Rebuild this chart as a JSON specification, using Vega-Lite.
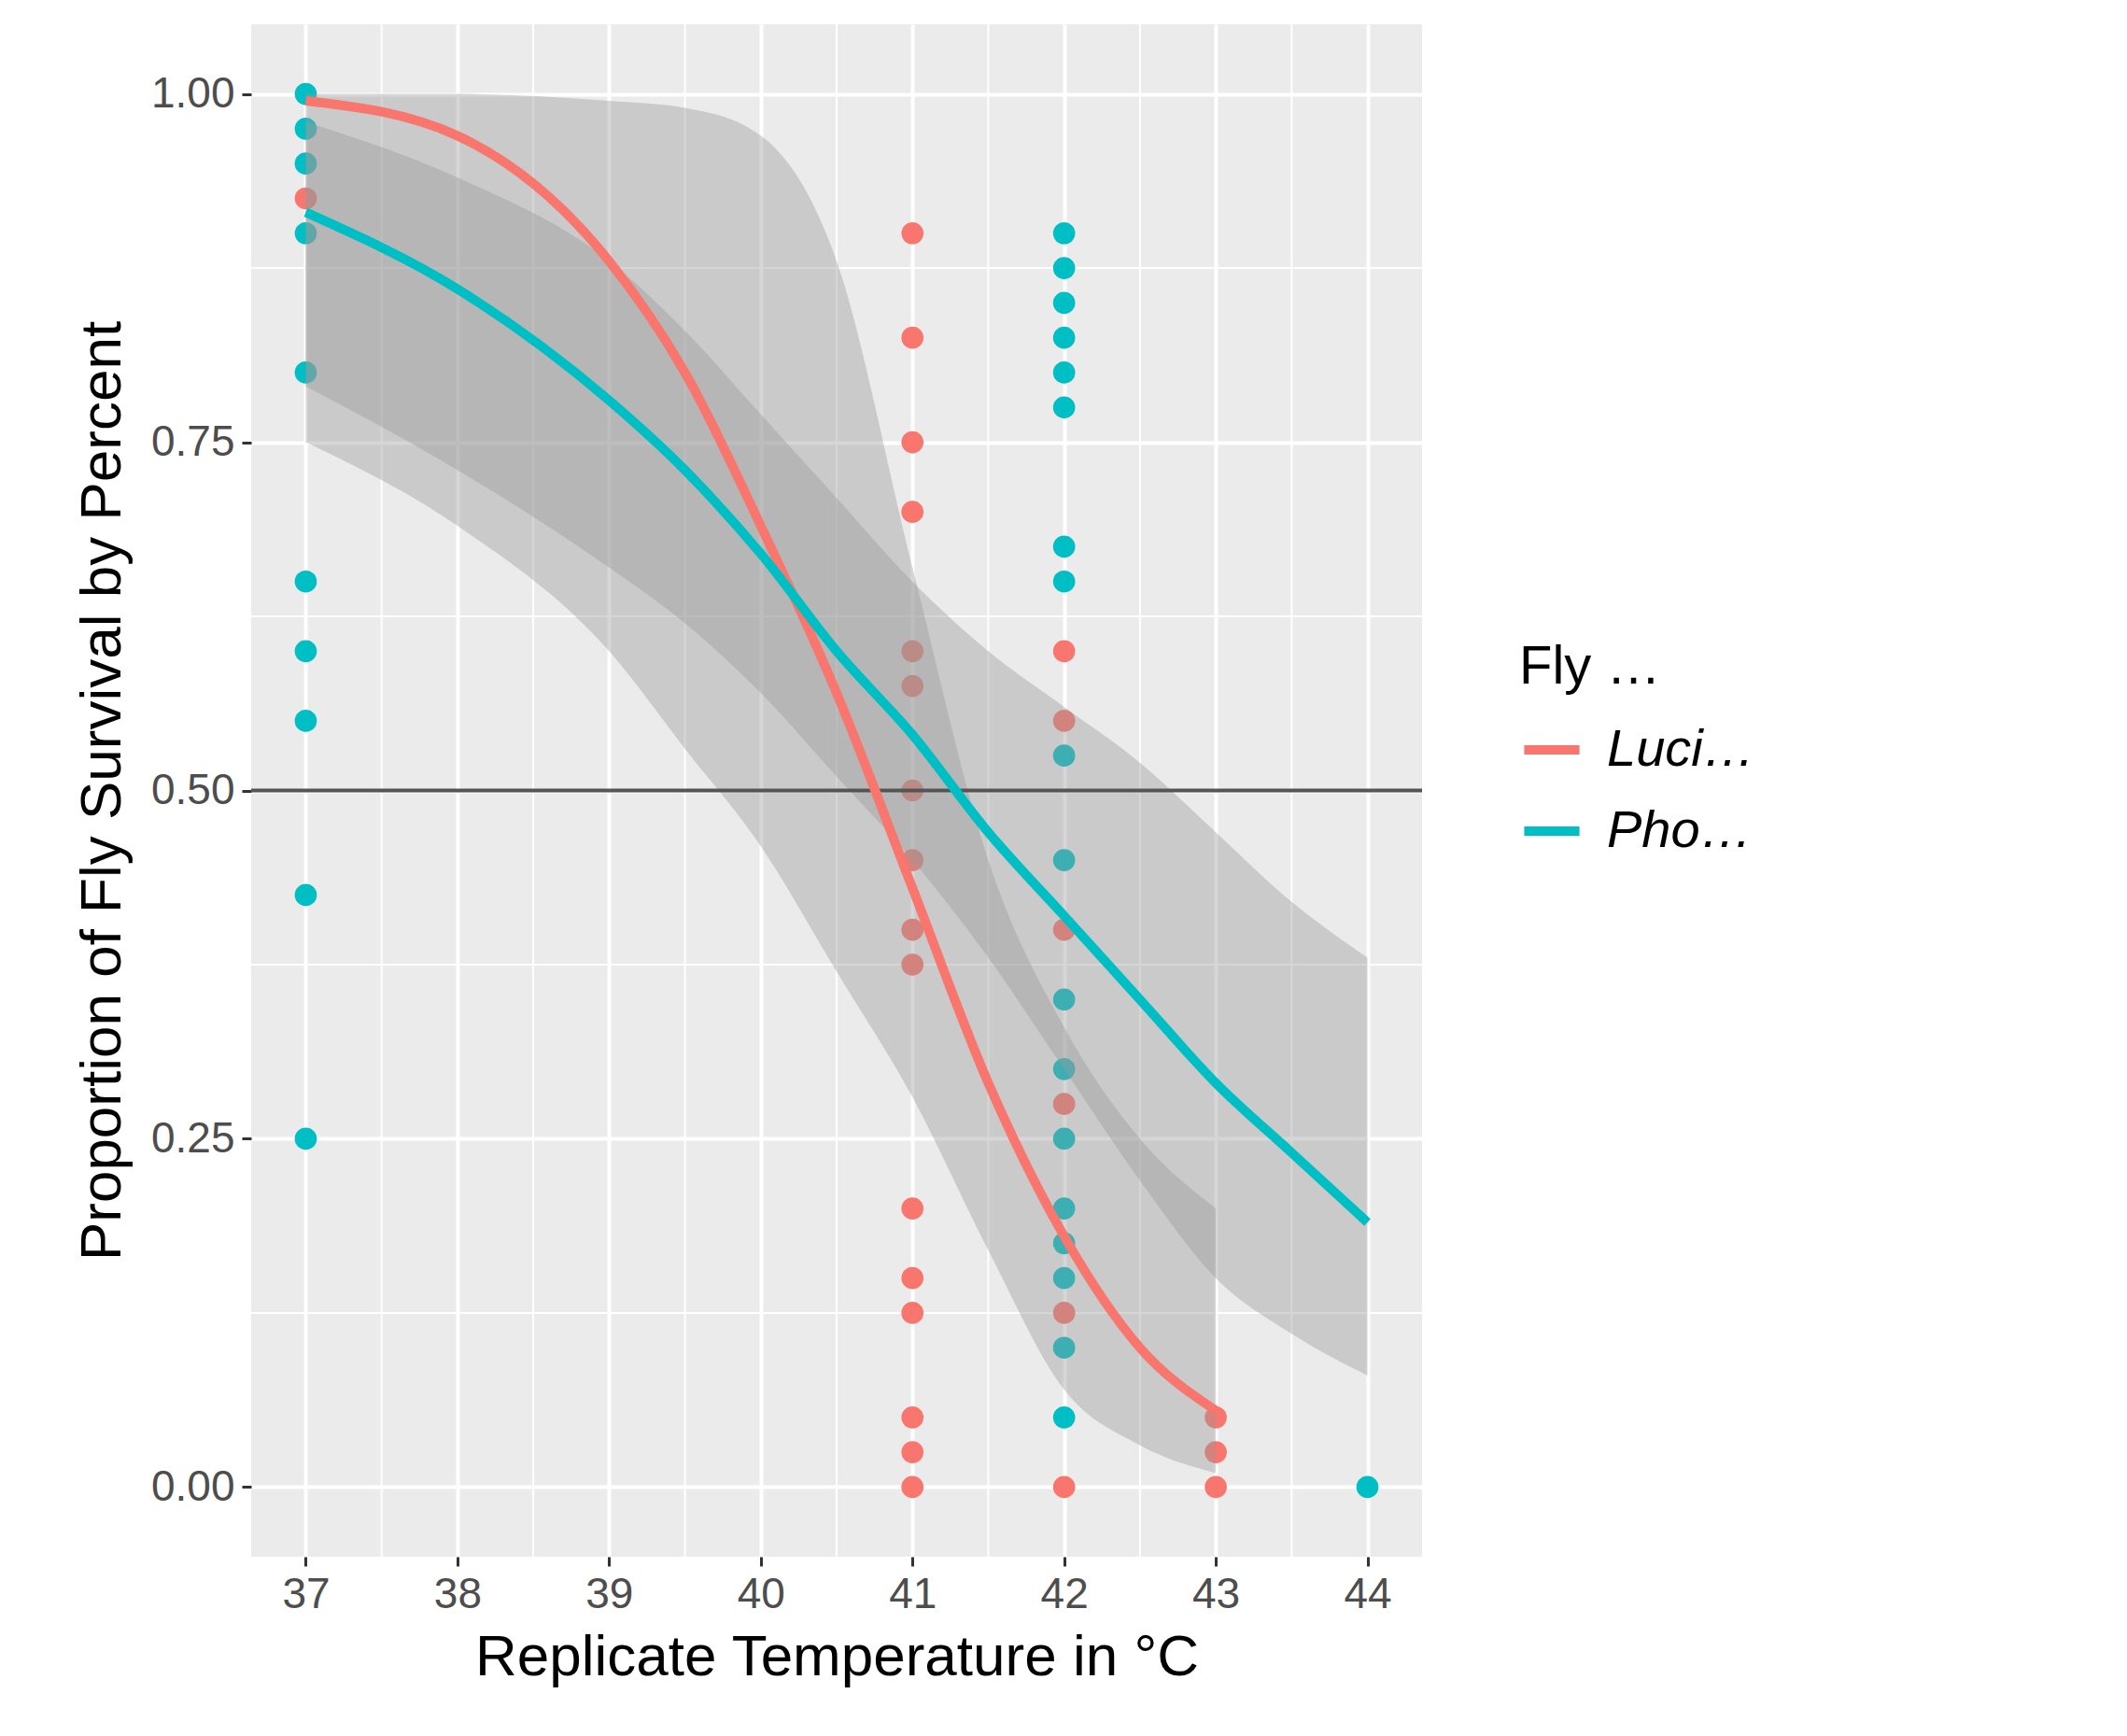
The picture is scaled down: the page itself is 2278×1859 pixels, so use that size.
{
"$schema":"https://vega.github.io/schema/vega-lite/v6.json",
"width":1254,"height":1641,
"autosize":"none",
"padding":{"left":269,"top":26,"right":755,"bottom":192},
"background":"white",
"config":{"view":{"fill":"#EBEBEB","stroke":null},"font":"Liberation Sans"},
"datasets":{
"pts":[
{"t":37,"p":0.925,"s":"Lucilia sericata"},
{"t":41,"p":0.9,"s":"Lucilia sericata"},{"t":41,"p":0.825,"s":"Lucilia sericata"},{"t":41,"p":0.75,"s":"Lucilia sericata"},{"t":41,"p":0.7,"s":"Lucilia sericata"},{"t":41,"p":0.6,"s":"Lucilia sericata"},{"t":41,"p":0.575,"s":"Lucilia sericata"},{"t":41,"p":0.5,"s":"Lucilia sericata"},{"t":41,"p":0.45,"s":"Lucilia sericata"},{"t":41,"p":0.4,"s":"Lucilia sericata"},{"t":41,"p":0.375,"s":"Lucilia sericata"},{"t":41,"p":0.2,"s":"Lucilia sericata"},{"t":41,"p":0.15,"s":"Lucilia sericata"},{"t":41,"p":0.125,"s":"Lucilia sericata"},{"t":41,"p":0.05,"s":"Lucilia sericata"},{"t":41,"p":0.025,"s":"Lucilia sericata"},{"t":41,"p":0,"s":"Lucilia sericata"},
{"t":42,"p":0.6,"s":"Lucilia sericata"},{"t":42,"p":0.55,"s":"Lucilia sericata"},{"t":42,"p":0.4,"s":"Lucilia sericata"},{"t":42,"p":0.275,"s":"Lucilia sericata"},{"t":42,"p":0.125,"s":"Lucilia sericata"},{"t":42,"p":0,"s":"Lucilia sericata"},
{"t":43,"p":0.05,"s":"Lucilia sericata"},{"t":43,"p":0.025,"s":"Lucilia sericata"},{"t":43,"p":0,"s":"Lucilia sericata"},
{"t":37,"p":1.0,"s":"Phormia regina"},{"t":37,"p":0.975,"s":"Phormia regina"},{"t":37,"p":0.95,"s":"Phormia regina"},{"t":37,"p":0.9,"s":"Phormia regina"},{"t":37,"p":0.8,"s":"Phormia regina"},{"t":37,"p":0.65,"s":"Phormia regina"},{"t":37,"p":0.6,"s":"Phormia regina"},{"t":37,"p":0.55,"s":"Phormia regina"},{"t":37,"p":0.425,"s":"Phormia regina"},{"t":37,"p":0.25,"s":"Phormia regina"},
{"t":42,"p":0.9,"s":"Phormia regina"},{"t":42,"p":0.875,"s":"Phormia regina"},{"t":42,"p":0.85,"s":"Phormia regina"},{"t":42,"p":0.825,"s":"Phormia regina"},{"t":42,"p":0.8,"s":"Phormia regina"},{"t":42,"p":0.775,"s":"Phormia regina"},{"t":42,"p":0.675,"s":"Phormia regina"},{"t":42,"p":0.65,"s":"Phormia regina"},{"t":42,"p":0.525,"s":"Phormia regina"},{"t":42,"p":0.45,"s":"Phormia regina"},{"t":42,"p":0.35,"s":"Phormia regina"},{"t":42,"p":0.3,"s":"Phormia regina"},{"t":42,"p":0.25,"s":"Phormia regina"},{"t":42,"p":0.2,"s":"Phormia regina"},{"t":42,"p":0.175,"s":"Phormia regina"},{"t":42,"p":0.15,"s":"Phormia regina"},{"t":42,"p":0.1,"s":"Phormia regina"},{"t":42,"p":0.05,"s":"Phormia regina"},
{"t":44,"p":0,"s":"Phormia regina"}
],
"fit":[
{"t":37,"f":0.995,"lo":0.75,"hi":1.0,"s":"Lucilia sericata"},
{"t":38,"f":0.97,"lo":0.69,"hi":1.0,"s":"Lucilia sericata"},
{"t":39,"f":0.88,"lo":0.6,"hi":0.995,"s":"Lucilia sericata"},
{"t":39.5,"f":0.8,"lo":0.53,"hi":0.99,"s":"Lucilia sericata"},
{"t":40,"f":0.69,"lo":0.46,"hi":0.97,"s":"Lucilia sericata"},
{"t":40.5,"f":0.57,"lo":0.37,"hi":0.88,"s":"Lucilia sericata"},
{"t":41,"f":0.43,"lo":0.28,"hi":0.66,"s":"Lucilia sericata"},
{"t":41.5,"f":0.29,"lo":0.17,"hi":0.45,"s":"Lucilia sericata"},
{"t":42,"f":0.18,"lo":0.07,"hi":0.33,"s":"Lucilia sericata"},
{"t":42.5,"f":0.1,"lo":0.03,"hi":0.25,"s":"Lucilia sericata"},
{"t":43,"f":0.055,"lo":0.01,"hi":0.2,"s":"Lucilia sericata"},
{"t":37,"f":0.915,"lo":0.79,"hi":0.98,"s":"Phormia regina"},
{"t":38,"f":0.86,"lo":0.73,"hi":0.94,"s":"Phormia regina"},
{"t":39,"f":0.78,"lo":0.66,"hi":0.88,"s":"Phormia regina"},
{"t":39.5,"f":0.73,"lo":0.62,"hi":0.83,"s":"Phormia regina"},
{"t":40,"f":0.67,"lo":0.57,"hi":0.77,"s":"Phormia regina"},
{"t":40.5,"f":0.6,"lo":0.51,"hi":0.71,"s":"Phormia regina"},
{"t":41,"f":0.54,"lo":0.45,"hi":0.65,"s":"Phormia regina"},
{"t":41.5,"f":0.47,"lo":0.38,"hi":0.6,"s":"Phormia regina"},
{"t":42,"f":0.41,"lo":0.3,"hi":0.56,"s":"Phormia regina"},
{"t":42.5,"f":0.35,"lo":0.22,"hi":0.52,"s":"Phormia regina"},
{"t":43,"f":0.29,"lo":0.15,"hi":0.47,"s":"Phormia regina"},
{"t":43.5,"f":0.24,"lo":0.11,"hi":0.42,"s":"Phormia regina"},
{"t":44,"f":0.19,"lo":0.08,"hi":0.38,"s":"Phormia regina"}
],
"minx":[{"v":37.5},{"v":38.5},{"v":39.5},{"v":40.5},{"v":41.5},{"v":42.5},{"v":43.5}],
"miny":[{"v":0.125},{"v":0.375},{"v":0.625},{"v":0.875}]
},
"layer":[
{"data":{"name":"minx"},"mark":{"type":"rule","color":"white","strokeWidth":2},
 "encoding":{"x":{"field":"v","type":"quantitative","scale":{"domain":[36.64,44.36],"nice":false,"zero":false}}}},
{"data":{"name":"miny"},"mark":{"type":"rule","color":"white","strokeWidth":2},
 "encoding":{"y":{"field":"v","type":"quantitative","scale":{"domain":[-0.05,1.05],"nice":false}}}},
{"data":{"name":"pts"},"mark":{"type":"circle","size":560,"opacity":1},
 "encoding":{
  "x":{"field":"t","type":"quantitative","scale":{"domain":[36.64,44.36],"nice":false,"zero":false},
   "axis":{"title":"Replicate Temperature in °C","values":[37,38,39,40,41,42,43,44],"format":"d","grid":true,"gridColor":"white","gridWidth":4,"domain":false,"tickColor":"#333333","tickWidth":3,"tickSize":10,"labelFontSize":46,"labelColor":"#4D4D4D","labelPadding":8,"titleFontSize":62,"titleFontWeight":"normal","titleColor":"black","titlePadding":14}},
  "y":{"field":"p","type":"quantitative","scale":{"domain":[-0.05,1.05],"nice":false},
   "axis":{"title":"Proportion of Fly Survival by Percent","values":[0,0.25,0.5,0.75,1],"format":".2f","grid":true,"gridColor":"white","gridWidth":4,"domain":false,"tickColor":"#333333","tickWidth":3,"tickSize":10,"labelFontSize":46,"labelColor":"#4D4D4D","labelPadding":8,"titleFontSize":62,"titleFontWeight":"normal","titleColor":"black","titlePadding":20}},
  "color":{"field":"s","type":"nominal","scale":{"domain":["Lucilia sericata","Phormia regina"],"range":["#F8766D","#00BFC4"]},
   "legend":{"title":"Fly Species","orient":"none","legendX":1358,"legendY":660,"titleFontSize":58,"titleFontWeight":"normal","titleColor":"black","titlePadding":24,"labelFontSize":56,"labelFontStyle":"italic","labelColor":"black","symbolSize":3500,"symbolStrokeWidth":10,"symbolType":"stroke","rowPadding":24,"labelOffset":24}}}},
{"data":{"name":"fit"},"mark":{"type":"area","color":"#999999","opacity":0.4,"interpolate":"monotone"},
 "encoding":{"x":{"field":"t","type":"quantitative"},"y":{"field":"lo","type":"quantitative"},"y2":{"field":"hi"},"detail":{"field":"s"}}},
{"data":{"values":[{"y":0.5}]},"mark":{"type":"rule","color":"#555555","strokeWidth":4},
 "encoding":{"y":{"field":"y","type":"quantitative"}}},
{"data":{"name":"fit"},"mark":{"type":"line","strokeWidth":10,"interpolate":"monotone"},
 "encoding":{"x":{"field":"t","type":"quantitative"},"y":{"field":"f","type":"quantitative"},
  "color":{"field":"s","type":"nominal"}}}
]
}
